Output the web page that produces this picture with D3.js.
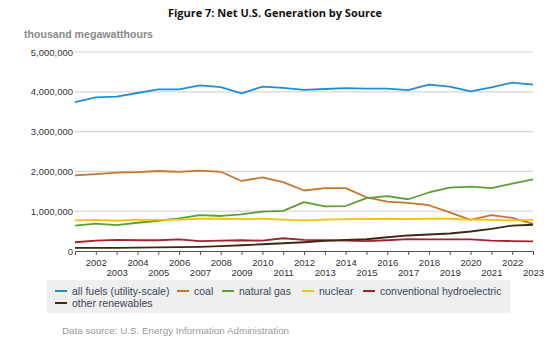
<!DOCTYPE html>
<html>
<head>
<meta charset="utf-8">
<script src="https://cdn.jsdelivr.net/npm/d3@7"></script>
<style>
  body { margin: 0; background: #fff; }
  text { font-family: "Liberation Sans", Arial, sans-serif; }
</style>
</head>
<body>
<div id="chart"></div>
<script>
// values in thousand megawatthours
const years = d3.range(2001, 2024);
const allFuels = [3740000, 3860000, 3880000, 3970000, 4060000, 4060000, 4160000, 4120000, 3960000, 4130000, 4100000, 4050000, 4070000, 4090000, 4080000, 4080000, 4040000, 4180000, 4130000, 4010000, 4110000, 4230000, 4180000];
const coal = [1900000, 1930000, 1970000, 1980000, 2010000, 1990000, 2020000, 1990000, 1760000, 1850000, 1730000, 1520000, 1580000, 1580000, 1350000, 1240000, 1210000, 1150000, 970000, 780000, 900000, 830000, 680000];
const naturalGas = [640000, 690000, 650000, 710000, 760000, 820000, 900000, 880000, 920000, 990000, 1010000, 1230000, 1120000, 1130000, 1330000, 1380000, 1300000, 1470000, 1590000, 1620000, 1580000, 1690000, 1800000];
const nuclear = [770000, 780000, 760000, 790000, 780000, 790000, 810000, 810000, 800000, 810000, 790000, 770000, 790000, 800000, 800000, 810000, 800000, 810000, 810000, 790000, 780000, 770000, 780000];
const hydro = [220000, 260000, 280000, 270000, 270000, 290000, 250000, 260000, 270000, 260000, 320000, 280000, 270000, 260000, 250000, 270000, 300000, 290000, 290000, 290000, 260000, 250000, 240000];
const otherRenewables = [80000, 80000, 80000, 85000, 90000, 95000, 105000, 125000, 145000, 170000, 195000, 220000, 255000, 280000, 295000, 345000, 390000, 415000, 440000, 490000, 555000, 640000, 660000];

const seriesNames = ["all fuels (utility-scale)", "coal", "natural gas", "nuclear", "conventional hydroelectric", "other renewables"];
const seriesValues = [allFuels, coal, naturalGas, nuclear, hydro, otherRenewables];
const seriesColors = ["#1e8fd5", "#c8752a", "#5b9e34", "#f4c20d", "#a3222f", "#3b2a12"];
const yTicks = [0, 1000000, 2000000, 3000000, 4000000, 5000000];

const W = 556, H = 343;
const margin = { top: 52, right: 23, bottom: 92, left: 75 };

const x = d3.scaleLinear().domain([2001, 2023]).range([margin.left, W - margin.right]);
const y = d3.scaleLinear().domain([0, 5000000]).range([H - margin.bottom, margin.top]);

const svg = d3.select("#chart").append("svg")
  .attr("width", W)
  .attr("height", H);

// title + unit label
svg.append("text")
  .attr("x", 275).attr("y", 16.5)
  .attr("text-anchor", "middle")
  .style("font-family", "'Open Sans', sans-serif")
  .style("font-weight", "bold")
  .style("font-size", "11px")
  .attr("fill", "#111")
  .text("Figure 7: Net U.S. Generation by Source");

svg.append("text")
  .attr("x", 24).attr("y", 38)
  .style("font-weight", "bold")
  .style("font-size", "10.6px")
  .attr("fill", "#8a8a8a")
  .text("thousand megawatthours");

// gridlines
svg.append("g")
  .selectAll("line")
  .data(yTicks.filter(d => d > 0))
  .join("line")
  .attr("x1", margin.left - 1).attr("x2", W - margin.right)
  .attr("y1", d => y(d)).attr("y2", d => y(d))
  .attr("stroke", "#d6d6d6")
  .attr("stroke-width", 1.2);

// y axis labels
const yAxis = svg.append("g")
  .attr("transform", `translate(${margin.left - 1},0)`)
  .call(d3.axisLeft(y).tickValues(yTicks).tickSize(0).tickPadding(1).tickFormat(d3.format(",")));
yAxis.select(".domain").remove();
yAxis.selectAll("text")
  .style("font-size", "9.5px")
  .attr("fill", "#333");

// x axis
const xAxis = svg.append("g")
  .attr("transform", `translate(0,${y(0)})`)
  .call(d3.axisBottom(x).tickValues(years).tickSize(4).tickSizeOuter(0)
    .tickFormat(d => d === 2001 ? "" : d));
xAxis.select(".domain").attr("stroke", "#555").attr("stroke-width", 1.2);
xAxis.selectAll(".tick line").attr("stroke", "#555");
xAxis.selectAll("text")
  .style("font-size", "9.5px")
  .attr("fill", "#333")
  .attr("y", d => d % 2 === 0 ? 8 : 18)
  .attr("dy", "0.71em");

// lines
const line = d3.line()
  .x((d, i) => x(years[i]))
  .y(d => y(d));

svg.append("g")
  .selectAll("path")
  .data(seriesValues)
  .join("path")
  .attr("fill", "none")
  .attr("stroke", (d, i) => seriesColors[i])
  .attr("stroke-width", 1.8)
  .attr("stroke-linejoin", "round")
  .attr("d", line);

// legend
const legend = svg.append("g");
legend.append("rect")
  .attr("x", 47).attr("y", 280)
  .attr("width", 463).attr("height", 33)
  .attr("fill", "#efefef");

const legendPos = [[55, 291], [177, 291], [222, 291], [302, 291], [363, 291], [55, 303]];
const item = legend.selectAll("g.item")
  .data(seriesNames)
  .join("g")
  .attr("class", "item")
  .attr("transform", (d, i) => `translate(${legendPos[i][0]},${legendPos[i][1]})`);
item.append("line")
  .attr("x1", 0).attr("x2", 12)
  .attr("stroke", (d, i) => seriesColors[i])
  .attr("stroke-width", 2);
item.append("text")
  .attr("x", 17).attr("y", 3.8)
  .style("font-size", "10.5px")
  .attr("fill", "#3b4656")
  .text(d => d);

svg.append("text")
  .attr("x", 62).attr("y", 334)
  .style("font-size", "9.8px")
  .attr("fill", "#999")
  .text("Data source: U.S. Energy Information Administration");
</script>
</body>
</html>
